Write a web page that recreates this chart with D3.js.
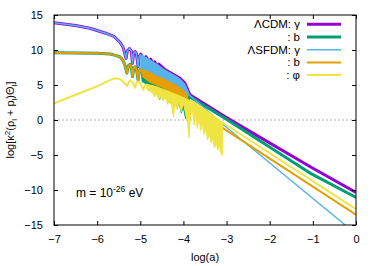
<!DOCTYPE html>
<html>
<head>
<meta charset="utf-8">
<script src="https://cdn.jsdelivr.net/npm/d3@7"></script>
<style>
  body { margin: 0; background: #fff; }
  text { font-family: "Liberation Sans", Arial, sans-serif; }
</style>
</head>
<body>
<svg id="chart" width="379" height="266"></svg>
<script>
// values: [log(a), log[k^2(rho+p)Theta]]

// LCDM photons (purple)
var cdmGamma = [[-7,13.9],[-6.5,13.5],[-6.17,13.1],[-5.8,12.4],[-5.6,11.9],[-5.47,11.1],[-5.4,10.4],
  [-5.33,8.8],[-5.30,9.9],[-5.25,10.2],[-5.21,9.9],[-5.18,8.1],[-5.155,9.5],[-5.12,9.76],[-5.09,9.5],
  [-5.05,7.6],[-5.025,9.1],[-4.99,9.4],[-4.96,9.1],[-4.93,7.4],[-4.905,8.75],[-4.87,9.05],[-4.84,8.75],
  [-4.81,7.1],[-4.79,8.45],[-4.76,8.7],[-4.735,8.4],[-4.71,7.0],[-4.69,8.05],[-4.665,8.3],[-4.64,8.0],
  [-4.62,6.8],[-4.60,7.8],[-4.57,8.0],[-4.5,7.6],[-4.43,7.2],[-4.2,6.4],[-4.08,5.95],[-3.97,5.3],
  [-3.85,3.6],[-3.04,0.48],[-1.03,-6.78],[0,-10.35]];

// LCDM baryons (green)
var cdmBaryon = [[-7,9.6],[-6.5,9.58],[-6,9.52],[-5.7,9.43],[-5.55,9.2],[-5.47,9.0],[-5.41,8.6],[-5.36,7.9],
  [-5.31,6.7],[-5.28,7.7],[-5.24,7.95],[-5.21,7.6],[-5.18,6.2],[-5.155,7.3],[-5.12,7.6],[-5.09,7.3],
  [-5.05,5.7],[-5.025,7.0],[-4.99,7.24],[-4.96,6.95],[-4.93,5.4]];
var cdmBaryonBandTop = [[-4.93,7.0],[-4.6,6.5],[-4.43,6.0],[-4.2,5.4],[-3.96,4.5],[-3.85,3.3]];
var cdmBaryonBandLow = [[-4.93,5.4],[-4.85,5.1],[-4.75,4.6],[-4.65,4.3],[-4.58,3.4],[-4.55,2.9],[-4.52,3.9],
  [-4.47,3.0],[-4.43,3.8],[-4.36,3.2],[-4.3,2.4],[-4.26,3.4],[-4.2,2.8],[-4.15,1.7],[-4.1,2.5],[-4.05,1.0],
  [-4.0,1.8],[-3.95,0.2],[-3.9,1.4],[-3.85,3.3]];
var cdmBaryonTail = [[-3.85,3.3],[-3.04,0.24],[-1.03,-7.7],[-0.06,-10.86],[0,-11.05]];

// LSFDM photons (light blue)
var sfdmGamma = [[-7,13.9],[-6.5,13.5],[-6.17,13.1],[-5.8,12.4],[-5.6,11.9],[-5.47,11.1],[-5.4,10.4],
  [-5.33,8.8],[-5.30,9.9],[-5.25,10.2],[-5.21,9.9],[-5.18,8.1],[-5.155,9.5],[-5.12,9.76],[-5.09,9.5],
  [-5.05,7.6],[-5.025,9.1],[-4.99,9.4]];
var sfdmGammaBandTop = [[-4.99,9.3],[-4.87,8.95],[-4.62,8.0],[-4.43,7.15],[-4.2,6.35],[-4.08,5.9],[-3.97,5.2],[-3.87,3.8]];
var sfdmGammaBandLow = [[-4.99,7.4],[-4.87,7.0],[-4.75,6.7],[-4.6,6.2],[-4.43,5.8],[-4.31,5.4],[-4.15,4.9],
  [-3.96,4.0],[-3.9,3.6],[-3.87,3.5]];
var sfdmGammaTail = [[-3.87,3.6],[-3.04,-0.86],[-0.25,-15],[0,-16.3]];

// LSFDM baryons (orange)
var sfdmBaryon = [[-7,9.6],[-6.5,9.58],[-6,9.52],[-5.7,9.43],[-5.55,9.2],[-5.47,9.0],[-5.41,8.6],[-5.36,7.9],
  [-5.31,6.7],[-5.28,7.7],[-5.24,7.95],[-5.21,7.6],[-5.18,6.2],[-5.155,7.3],[-5.12,7.6],[-5.09,7.3],
  [-5.05,5.7],[-5.025,7.0],[-4.99,7.24],[-4.95,6.6]];
var sfdmBaryonBandTop = [[-4.95,7.2],[-4.78,6.8],[-4.6,6.2],[-4.43,5.8],[-4.31,5.4],[-4.15,4.9],[-3.96,4.0],[-3.9,3.4]];
var sfdmBaryonBandLow = [[-4.95,6.2],[-4.85,5.7],[-4.78,5.4],[-4.7,5.2],[-4.6,4.9],[-4.5,4.7],[-4.43,4.4],
  [-4.31,4.0],[-4.2,3.8],[-4.15,3.5],[-4.05,3.3],[-3.96,2.9],[-3.9,2.6]];
var sfdmBaryonTail = [[-3.92,3.6],[-3.9,1.0],[-3.875,2.8],[-3.85,0.2],[-3.825,2.4],[-3.8,1.7],[-3.04,-1.33],[0,-13.54]];

// LSFDM scalar field (yellow)
var sfdmPhi = [[-7,2.4],[-6.5,3.6],[-6,4.8],[-5.75,5.55],[-5.62,5.9],[-5.53,5.95],[-5.45,5.75],[-5.38,5.35],
  [-5.30,4.85],[-5.27,5.4],[-5.23,5.65],[-5.18,5.4],[-5.12,4.6],[-5.09,5.3],[-5.05,5.5],[-5.0,5.2],
  [-4.93,4.3],[-4.90,4.9],[-4.85,5.1]];
var sfdmPhiBandTop = [[-4.85,5.1],[-4.7,4.9],[-4.6,4.7],[-4.43,4.3],[-4.31,4.0],[-4.15,3.6],[-3.96,3.1],
  [-3.9,2.9],[-3.78,2.7],[-3.5,1.5],[-3.3,0.6],[-3.09,-0.35]];
var sfdmPhiBandLow = [[-4.85,4.4],[-4.78,4.1],[-4.72,3.9],[-4.66,3.3],[-4.62,3.8],[-4.57,2.9],[-4.52,3.5],
  [-4.47,2.7],[-4.42,3.3],[-4.36,2.2],[-4.31,2.9],[-4.26,1.6],[-4.23,0.4],[-4.20,2.3],[-4.15,1.5],
  [-4.10,2.6],[-4.05,1.2],[-4.0,2.4],[-3.95,0.9],[-3.90,-0.5],[-3.87,-2.5],[-3.84,0.5],[-3.80,1.8],
  [-3.75,-0.7],[-3.72,1.0],[-3.68,-1.2],[-3.64,0.2],[-3.60,-1.5],[-3.56,-0.6],[-3.52,-2.1],[-3.48,-1.3],
  [-3.44,-2.8],[-3.40,-2.0],[-3.36,-3.3],[-3.32,-2.6],[-3.28,-4.0],[-3.24,-3.2],[-3.20,-4.3],[-3.16,-3.6],
  [-3.12,-5.0],[-3.09,-5.0]];
var sfdmPhiTail = [[-3.09,-0.35],[-3.04,-0.57],[0,-12.74]];

var xTicks = [-7, -6, -5, -4, -3, -2, -1, 0];
var yTicks = [-15, -10, -5, 0, 5, 10, 15];
var legendLabels = ["\u039BCDM: \u03B3", ": b", "\u039BSFDM: \u03B3", ": b", ": \u03C6"];
var colors = ["#9400d3", "#009e73", "#56b4e9", "#e69f00", "#f0e442"];
var widths = [3, 3, 1.5, 2, 2];

var svg = d3.select('#chart'),
    mLeft = 54, mRight = 356, mTop = 15, mBottom = 225,
    x = d3.scaleLinear().domain([-7, 0]).range([mLeft, mRight]),
    y = d3.scaleLinear().domain([-15, 15]).range([mBottom, mTop]);

var line = d3.line().x(function (d) { return x(d[0]); }).y(function (d) { return y(d[1]); });

svg.append('clipPath').attr('id', 'clip')
  .append('rect').attr('x', mLeft).attr('y', mTop).attr('width', mRight - mLeft).attr('height', mBottom - mTop);

// zero line
svg.append('line')
  .attr('x1', mLeft).attr('x2', mRight).attr('y1', y(0)).attr('y2', y(0))
  .attr('stroke', '#a0a0a0').attr('stroke-width', 0.8).attr('stroke-dasharray', '2,2');

var plot = svg.append('g').attr('clip-path', 'url(#clip)');

function drawLine(data, i) {
  plot.append('path').attr('d', line(data))
    .attr('fill', 'none').attr('stroke', colors[i]).attr('stroke-width', widths[i])
    .attr('stroke-linejoin', 'round');
}
function drawBand(topPts, lowPts, i) {
  plot.append('path').attr('d', line(topPts.concat(lowPts.slice().reverse())) + 'Z')
    .attr('fill', colors[i]).attr('stroke', colors[i]).attr('stroke-width', 1)
    .attr('stroke-linejoin', 'round');
}

// same order as the plot command: later series on top
drawLine(cdmGamma, 0);
drawLine(cdmBaryon, 1);
drawBand(cdmBaryonBandTop, cdmBaryonBandLow, 1);
drawLine(cdmBaryonTail, 1);
drawLine(sfdmGamma, 2);
drawBand(sfdmGammaBandTop, sfdmGammaBandLow, 2);
drawLine(sfdmGammaTail, 2);
drawLine(sfdmBaryon, 3);
drawBand(sfdmBaryonBandTop, sfdmBaryonBandLow, 3);
drawLine(sfdmBaryonTail, 3);
drawLine(sfdmPhi, 4);
drawBand(sfdmPhiBandTop, sfdmPhiBandLow, 4);
drawLine(sfdmPhiTail, 4);

// axes, ticks pointing inward on all sides
function styleAxis(g) {
  g.select('.domain').remove();
  g.selectAll('line').attr('stroke', '#000');
  g.selectAll('text').attr('font-size', 11).attr('font-family', '"Liberation Sans", Arial, sans-serif').attr('fill', '#000');
}
svg.append('g').attr('transform', 'translate(0,' + mBottom + ')')
  .call(d3.axisBottom(x).tickValues(xTicks).tickSize(-4).tickPadding(10).tickFormat(d3.format('d')))
  .call(styleAxis);
svg.append('g').attr('transform', 'translate(0,' + mTop + ')')
  .call(d3.axisTop(x).tickValues(xTicks).tickSize(-4).tickFormat(''))
  .call(styleAxis);
svg.append('g').attr('transform', 'translate(' + mLeft + ',0)')
  .call(d3.axisLeft(y).tickValues(yTicks).tickSize(-4).tickPadding(11).tickFormat(d3.format('d')))
  .call(styleAxis);
svg.append('g').attr('transform', 'translate(' + mRight + ',0)')
  .call(d3.axisRight(y).tickValues(yTicks).tickSize(-4).tickFormat(''))
  .call(styleAxis);

svg.append('rect').attr('x', mLeft).attr('y', mTop).attr('width', mRight - mLeft).attr('height', mBottom - mTop)
  .attr('fill', 'none').attr('stroke', '#000').attr('stroke-width', 1);

// legend
legendLabels.forEach(function (lab, i) {
  var ly = 24.3 + i * 12.7;
  svg.append('line').attr('x1', 307).attr('x2', 341).attr('y1', ly).attr('y2', ly)
    .attr('stroke', colors[i]).attr('stroke-width', widths[i]);
  svg.append('text').attr('x', 300).attr('y', ly + 4).attr('text-anchor', 'end')
    .attr('font-size', 11.5).text(lab);
});

// x label
svg.append('text').attr('x', (mLeft + mRight) / 2).attr('y', 261).attr('text-anchor', 'middle')
  .attr('font-size', 11).text('log(a)');

// y label
var yl = svg.append('text').attr('transform', 'translate(14,120) rotate(-90)')
  .attr('text-anchor', 'middle').attr('font-size', 11);
yl.append('tspan').text('log[\u03BA');
yl.append('tspan').attr('dy', -4).attr('font-size', 8).text('2');
yl.append('tspan').attr('dy', 4).text('(\u03C1');
yl.append('tspan').attr('dy', 2.5).attr('font-size', 8).text('l');
yl.append('tspan').attr('dy', -2.5).text(' + p');
yl.append('tspan').attr('dy', 2.5).attr('font-size', 8).text('l');
yl.append('tspan').attr('dy', -2.5).text(')\u0398');
yl.append('tspan').attr('dy', 2.5).attr('font-size', 8).text('l');
yl.append('tspan').attr('dy', -2.5).text(']');

// mass annotation
var ann = svg.append('text').attr('x', 76).attr('y', 197).attr('font-size', 12);
ann.append('tspan').text('m = 10');
ann.append('tspan').attr('dy', -5).attr('font-size', 8.5).text('-26');
ann.append('tspan').attr('dy', 5).text(' eV');
</script>
</body>
</html>
